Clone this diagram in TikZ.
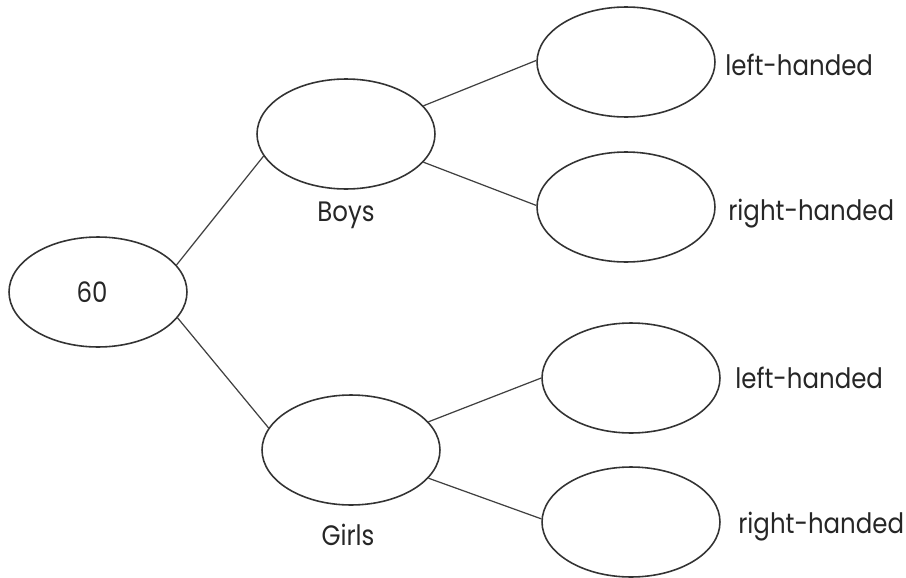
\documentclass[tikz,border=0pt]{standalone}
\usepackage{fontspec}
\setmainfont[FakeStretch=0.87]{Poppins}
\usetikzlibrary{positioning, shapes.geometric}
\tikzset{
    oval/.style={draw=black!80, line width=0.9pt, ellipse, minimum width=3.56cm, minimum height=2.2cm, inner sep=0pt},
    branch/.style={draw=black!75, line width=0.7pt},
    lbl/.style={font=\fontsize{16}{19}\selectfont, text=black!85, inner sep=0pt}
}

\begin{document}
\begin{tikzpicture}[x=0.02cm, y=-0.02cm]
    \useasboundingbox (0,0) rectangle (906,578);

    % the ovals
    \node[oval] (total) at (98, 292) {};
    \node[oval] (boys) at (346, 134) {};
    \node[oval] (girls) at (351, 450) {};
    \node[oval] (boysL) at (626, 62) {};
    \node[oval] (boysR) at (626, 207) {};
    \node[oval] (girlsL) at (631, 378) {};
    \node[oval] (girlsR) at (631, 522) {};

    % texts
    \node[lbl] (num) at (92, 292) {60};
    \node[lbl] (boystext) at (346, 215) {Boys};
    \node[lbl] (girlstext) at (348, 535) {Girls};
    \node[lbl, anchor=west] (boysLtext) at (725, 65) {left-handed};
    \node[lbl, anchor=west] (boysRtext) at (728, 214) {right-handed};
    \node[lbl, anchor=west] (girlsLtext) at (735, 378) {left-handed};
    \node[lbl, anchor=west] (girlsRtext) at (738, 527) {right-handed};

    % branches
    \draw[branch] (total.19) -- (boys.195);
    \draw[branch] (total.-18) -- (girls.165);
    \draw[branch] (boys.20) -- (boysL.179);
    \draw[branch] (boys.-20) -- (boysR.179);
    \draw[branch] (girls.20) -- (girlsL.180);
    \draw[branch] (girls.-20) -- (girlsR.178);
\end{tikzpicture}
\end{document}
